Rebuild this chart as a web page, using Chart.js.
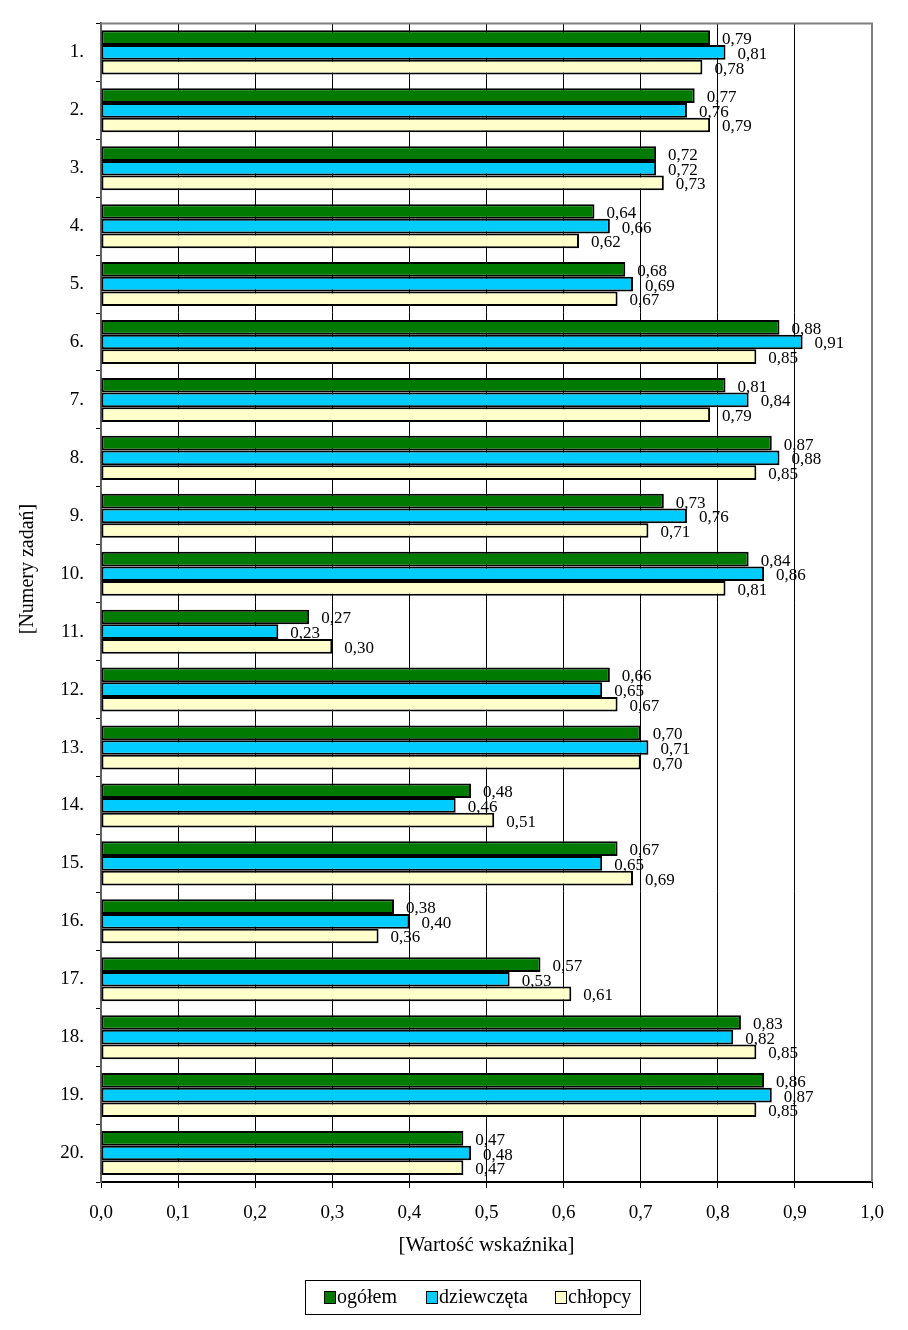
<!DOCTYPE html>
<html>
<head>
<meta charset="utf-8">
<script src="https://cdn.jsdelivr.net/npm/chart.js@4.4.0/dist/chart.umd.min.js"></script>
<style>
  html, body { margin: 0; padding: 0; background: #fff; }
  #wrap { position: relative; width: 908px; height: 1330px; }
</style>
</head>
<body>
<div id="wrap"><canvas id="chart" width="908" height="1330"></canvas></div>
<script>
// task numbers
const labels = ["1.", "2.", "3.", "4.", "5.", "6.", "7.", "8.", "9.", "10.",
  "11.", "12.", "13.", "14.", "15.", "16.", "17.", "18.", "19.", "20."];

// index values per group
const ogolem = [0.79, 0.77, 0.72, 0.64, 0.68, 0.88, 0.81, 0.87, 0.73, 0.84,
  0.27, 0.66, 0.70, 0.48, 0.67, 0.38, 0.57, 0.83, 0.86, 0.47];
const dziewczeta = [0.81, 0.76, 0.72, 0.66, 0.69, 0.91, 0.84, 0.88, 0.76, 0.86,
  0.23, 0.65, 0.71, 0.46, 0.65, 0.40, 0.53, 0.82, 0.87, 0.48];
const chlopcy = [0.78, 0.79, 0.73, 0.62, 0.67, 0.85, 0.79, 0.85, 0.71, 0.81,
  0.30, 0.67, 0.70, 0.51, 0.69, 0.36, 0.61, 0.85, 0.85, 0.47];

const seriesNames = ["ogółem", "dziewczęta", "chłopcy"];
const seriesColors = ["#007A00", "#00CCFF", "#FFFFCC"];

const FONT = "'Liberation Serif', 'Times New Roman', serif";
const comma = (v, d) => v.toFixed(d).replace(".", ",");

// value labels at the end of every bar
const valueLabels = {
  id: "valueLabels",
  afterDatasetsDraw(chart) {
    const ctx = chart.ctx;
    ctx.save();
    ctx.font = "17px " + FONT;
    ctx.fillStyle = "#000";
    ctx.textBaseline = "middle";
    ctx.textAlign = "left";
    chart.data.datasets.forEach((ds, i) => {
      chart.getDatasetMeta(i).data.forEach((bar, j) => {
        ctx.fillText(comma(ds.data[j], 2), bar.x + 12, bar.y + 2);
      });
    });
    ctx.restore();
  }
};

// grey frame on top/right, y title, legend box at the bottom
const frameAndLegend = {
  id: "frameAndLegend",
  afterDraw(chart) {
    const ctx = chart.ctx;
    const a = chart.chartArea;
    ctx.save();
    ctx.strokeStyle = "#808080";
    ctx.lineWidth = 2;
    ctx.beginPath();
    ctx.moveTo(a.left, a.top);
    ctx.lineTo(a.right, a.top);
    ctx.lineTo(a.right, a.bottom);
    ctx.stroke();

    // y axis title (sits a bit above the middle in the original)
    ctx.save();
    ctx.translate(28, 569);
    ctx.rotate(-Math.PI / 2);
    ctx.font = "20px " + FONT;
    ctx.fillStyle = "#000";
    ctx.textAlign = "center";
    ctx.textBaseline = "middle";
    ctx.fillText("[Numery zadań]", 0, 0);
    ctx.restore();

    // legend
    ctx.strokeStyle = "#000";
    ctx.lineWidth = 1;
    ctx.strokeRect(305.5, 1280.5, 335, 34);
    ctx.font = "20px " + FONT;
    ctx.textBaseline = "middle";
    const xs = [324, 426, 555];
    seriesNames.forEach((name, i) => {
      ctx.fillStyle = seriesColors[i];
      ctx.fillRect(xs[i], 1291, 11, 12);
      ctx.strokeRect(xs[i] + 0.5, 1291.5, 11, 12);
      ctx.fillStyle = "#000";
      ctx.fillText(name, xs[i] + 13, 1298);
    });
    ctx.restore();
  }
};

const data = {
  labels,
  datasets: [ogolem, dziewczeta, chlopcy].map((vals, i) => ({
    label: seriesNames[i],
    data: vals,
    backgroundColor: seriesColors[i],
    borderColor: "#000",
    borderWidth: 2,
    borderSkipped: false,
    categoryPercentage: 0.76,
    barPercentage: 1.0
  }))
};

const config = {
  type: "bar",
  data,
  options: {
    indexAxis: "y",
    responsive: false,
    animation: false,
    layout: { padding: { top: 23, right: 36, bottom: 68, left: 0 } },
    plugins: {
      legend: { display: false },
      tooltip: { enabled: false }
    },
    scales: {
      x: {
        min: 0,
        max: 1,
        ticks: {
          stepSize: 0.1,
          color: "#000",
          font: { family: FONT, size: 19 },
          padding: 14,
          callback: (v) => comma(v, 1)
        },
        grid: { color: "#000", lineWidth: 1, tickLength: 6 },
        border: { color: "#000", width: 2 },
        title: {
          display: true,
          text: "[Wartość wskaźnika]",
          color: "#000",
          font: { family: FONT, size: 21 },
          padding: { top: 0, bottom: 4 }
        },
        afterFit: (s) => { s.height = 80; }
      },
      y: {
        ticks: {
          color: "#000",
          font: { family: FONT, size: 19 },
          padding: 12
        },
        grid: { drawOnChartArea: false, color: "#000", tickLength: 5 },
        border: { color: "#606060", width: 2 },
        afterFit: (s) => { s.width = 101; }
      }
    }
  },
  plugins: [valueLabels, frameAndLegend]
};

const chart = new Chart(document.getElementById("chart"), config);
</script>
</body>
</html>
